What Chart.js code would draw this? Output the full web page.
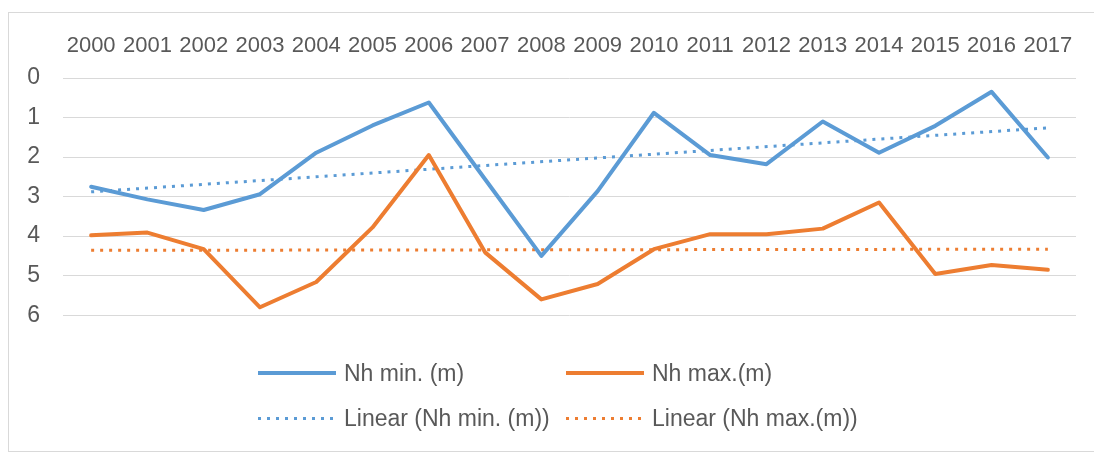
<!DOCTYPE html>
<html>
<head>
<meta charset="utf-8">
<script src="https://cdn.jsdelivr.net/npm/chart.js@4/dist/chart.umd.min.js"></script>
<style>
  body { margin: 0; background: #fff; font-family: "Liberation Sans", Arial, sans-serif; }
  #frame { position: absolute; left: 8px; top: 12px; width: 1110px; height: 438px; border: 1px solid #d9d9d9; }
  #wrap { position: absolute; left: 0; top: 0; width: 1094px; height: 352px; }
  #legend { position: absolute; left: 0; top: 0; width: 1094px; height: 452px; pointer-events: none; }
  .item { position: absolute; display: flex; align-items: center; height: 30px; color: #595959; font-size: 23px; }
  .swatch { width: 78px; margin-right: 8px; }
  .solid { height: 4px; }
  .dots { height: 3px; }
</style>
</head>
<body>
<div id="frame"></div>
<div id="wrap"><canvas id="chart"></canvas></div>
<div id="legend"></div>
<script>
const years = ["2000", "2001", "2002", "2003", "2004", "2005", "2006", "2007", "2008",
  "2009", "2010", "2011", "2012", "2013", "2014", "2015", "2016", "2017"];

// depth values
const nhMin = [2.75, 3.07, 3.34, 2.94, 1.89, 1.2, 0.62, 2.56, 4.5,
  2.86, 0.88, 1.95, 2.18, 1.1, 1.89, 1.21, 0.35, 2.01];
const nhMax = [3.98, 3.91, 4.33, 5.8, 5.16, 3.78, 1.95, 4.41, 5.6,
  5.21, 4.33, 3.95, 3.95, 3.81, 3.15, 4.96, 4.73, 4.85];

// trend line end points (first year, last year)
const trendMin = [2.88, 1.26];
const trendMax = [4.36, 4.33];

const yTicks = [0, 1, 2, 3, 4, 5, 6];

const blue = "#5b9bd5";
const orange = "#ed7d31";
const textColor = "#595959";

// only the end points, the library draws the straight line between them
const ends = (pair) => years.map((_, i) => i === 0 ? pair[0] : i === years.length - 1 ? pair[1] : null);

const myChart = new Chart(document.getElementById("chart"), {
  type: "line",
  data: {
    labels: years,
    datasets: [
      { label: "Nh min. (m)", data: nhMin, borderColor: blue, borderWidth: 4 },
      { label: "Nh max.(m)", data: nhMax, borderColor: orange, borderWidth: 4 },
      { label: "Linear (Nh min. (m))", data: ends(trendMin), borderColor: blue, borderWidth: 3,
        borderDash: [3, 6], spanGaps: true, borderCapStyle: "butt" },
      { label: "Linear (Nh max.(m))", data: ends(trendMax), borderColor: orange, borderWidth: 3,
        borderDash: [3, 6], spanGaps: true, borderCapStyle: "butt" },
    ],
  },
  options: {
    responsive: true,
    maintainAspectRatio: false,
    animation: false,
    layout: { padding: { left: 8, right: 18, top: 28, bottom: 14 } },
    elements: {
      point: { radius: 0 },
      line: { tension: 0, borderJoinStyle: "round", borderCapStyle: "round" },
    },
    plugins: {
      legend: { display: false },
      tooltip: { enabled: false },
    },
    scales: {
      x: {
        position: "top",
        offset: true,
        grid: { display: false },
        border: { display: false },
        ticks: {
          color: textColor,
          font: { family: "Liberation Sans", size: 22 },
          autoSkip: false,
          maxRotation: 0,
          padding: 11,
        },
        afterFit: (scale) => { scale.height = 50; },
      },
      y: {
        reverse: true,
        min: 0,
        max: 6,
        afterBuildTicks: (scale) => { scale.ticks = yTicks.map((v) => ({ value: v })); },
        grid: { color: "#d9d9d9", lineWidth: 1, drawTicks: false },
        border: { display: false },
        ticks: {
          color: textColor,
          font: { family: "Liberation Sans", size: 23 },
          padding: 23,
        },
        afterFit: (scale) => { scale.width = 55; },
      },
    },
  },
});

// legend, two rows by two columns as in the picture
const legendPlaces = [
  { left: 258, top: 373 },
  { left: 566, top: 373 },
  { left: 258, top: 418 },
  { left: 566, top: 418 },
];
const legendBox = document.getElementById("legend");
myChart.data.datasets.forEach((ds, i) => {
  const item = document.createElement("div");
  item.className = "item";
  item.style.left = legendPlaces[i].left + "px";
  item.style.top = (legendPlaces[i].top - 15) + "px";
  const sw = document.createElement("span");
  if (ds.borderDash) {
    sw.className = "swatch dots";
    sw.style.background = `repeating-linear-gradient(to right, ${ds.borderColor} 0 3px, transparent 3px 9px)`;
  } else {
    sw.className = "swatch solid";
    sw.style.background = ds.borderColor;
  }
  const txt = document.createElement("span");
  txt.textContent = ds.label;
  item.appendChild(sw);
  item.appendChild(txt);
  legendBox.appendChild(item);
});
</script>
</body>
</html>
